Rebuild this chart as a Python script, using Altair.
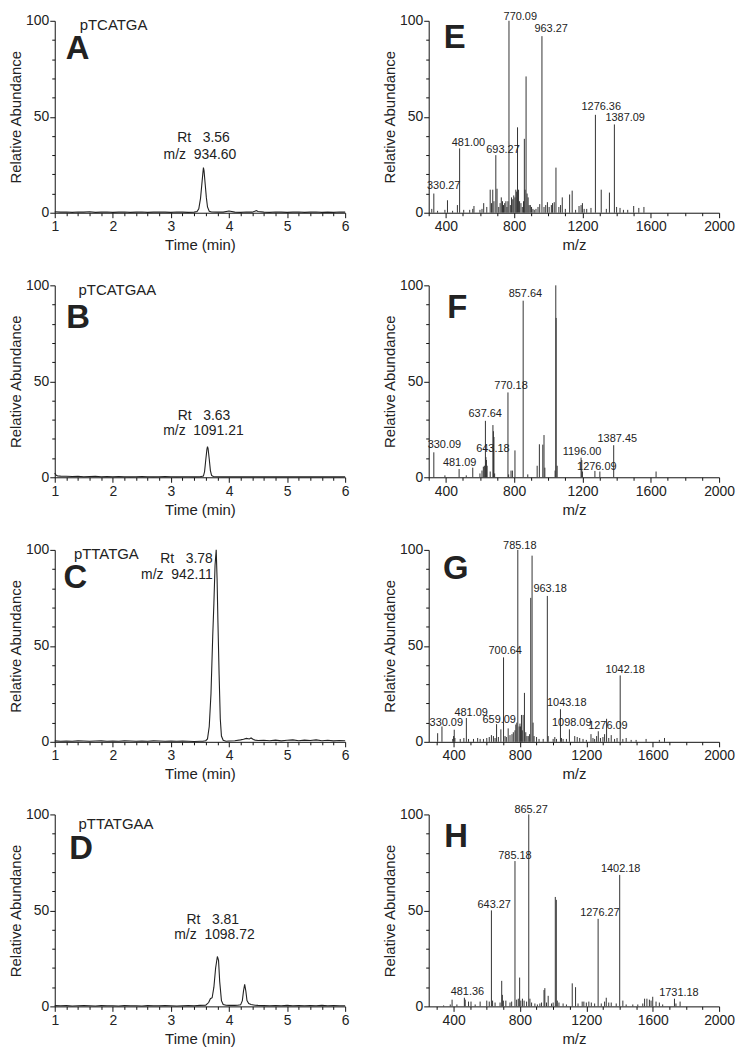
import altair as alt
import pandas as pd

FONT = "Liberation Sans"
INK = "#222222"

# ---------------- chromatograms (time in min, relative abundance) ----------------
A_time = [1.0, 1.1, 1.2, 1.3, 1.4, 1.5, 1.6, 1.7, 1.8, 1.9, 2.0, 2.1, 2.2, 2.3, 2.4, 2.5, 2.6, 2.7, 2.8, 2.9, 3.0, 3.1, 3.2, 3.3, 3.4,
          3.45, 3.48, 3.51, 3.53, 3.55, 3.56, 3.57, 3.59, 3.61, 3.63, 3.66,
          3.7, 3.8, 3.9, 4.0, 4.1, 4.2, 4.3, 4.4, 4.47, 4.5, 4.6, 4.7, 4.8, 4.9, 5.0, 5.1, 5.2, 5.3, 5.4, 5.5, 5.6, 5.7, 5.8, 5.9, 6.0]
A_int = [0.5, 0.3, 0.4, 0.2, 0.4, 0.3, 0.5, 0.2, 0.3, 0.4, 0.2, 0.3, 0.4, 0.2, 0.3, 0.4, 0.2, 0.3, 0.4, 0.3, 0.2, 0.4, 0.3, 0.2, 0.3,
         0.6, 2.0, 7.5, 14.0, 20.5, 23.5, 22.0, 15.0, 8.0, 3.0, 0.8,
         0.4, 0.3, 0.3, 0.9, 0.3, 0.2, 0.4, 0.3, 1.1, 0.6, 0.3, 0.2, 0.4, 0.3, 0.2, 0.3, 0.4, 0.2, 0.3, 0.4, 0.2, 0.3, 0.2, 0.4, 0.3]

B_time = [1.0, 1.02, 1.05, 1.1, 1.2, 1.3, 1.4, 1.5, 1.6, 1.7, 1.8, 1.9, 2.0, 2.1, 2.2, 2.3, 2.4, 2.5, 2.6, 2.7, 2.8, 2.9, 3.0, 3.1, 3.2, 3.3, 3.4, 3.5,
          3.56, 3.58, 3.6, 3.62, 3.63, 3.64, 3.66, 3.68, 3.7, 3.73,
          3.8, 3.9, 4.0, 4.1, 4.2, 4.3, 4.4, 4.5, 4.6, 4.7, 4.8, 4.9, 5.0, 5.1, 5.2, 5.3, 5.4, 5.5, 5.6, 5.7, 5.8, 5.9, 6.0]
B_int = [2.2, 1.2, 0.7,
         0.6, 0.5, 0.4, 0.5, 0.3, 0.4, 0.5, 0.3, 0.4, 0.3, 0.4, 0.3, 0.2, 0.3, 0.4, 0.3, 0.2, 0.3, 0.4, 0.3, 0.2, 0.3, 0.3, 0.2, 0.3,
         0.6, 3.0, 9.0, 14.5, 16.0, 15.0, 9.5, 3.5, 1.0, 0.4,
         0.3, 0.2, 0.3, 0.2, 0.3, 0.2, 0.3, 0.2, 0.3, 0.2, 0.2, 0.3, 0.2, 0.2, 0.3, 0.2, 0.3, 0.2, 0.2, 0.3, 0.2, 0.2, 0.3]

C_time = [1.0, 1.1, 1.2, 1.3, 1.4, 1.5, 1.6, 1.7, 1.8, 1.9, 2.0, 2.1, 2.2, 2.3, 2.4, 2.5, 2.6, 2.7, 2.8, 2.9, 3.0, 3.1, 3.2, 3.3, 3.4, 3.5,
          3.55, 3.6, 3.63, 3.66, 3.69, 3.72, 3.74, 3.76, 3.78, 3.795, 3.81, 3.83, 3.85, 3.87, 3.9, 3.95,
          4.0, 4.1, 4.2, 4.25, 4.3, 4.35, 4.38, 4.42, 4.45, 4.5,
          4.6, 4.7, 4.8, 4.9, 5.0, 5.1, 5.2, 5.3, 5.4, 5.5, 5.6, 5.7, 5.8, 5.9, 6.0]
C_int = [0.5, 0.3, 0.4, 0.3, 0.5, 0.4, 0.3, 0.4, 0.5, 0.3, 0.4, 0.3, 0.5, 0.4, 0.3, 0.4, 0.3, 0.5, 0.4, 0.3, 0.4, 0.3, 0.4, 0.3, 0.2, 0.3,
         0.3, 0.6, 1.5, 8.0, 25.0, 55.0, 72.0, 92.0, 100.0, 85.0, 62.0, 35.0, 12.0, 3.0, 0.8, 0.3,
         0.4, 0.6, 1.0, 1.3, 1.8, 1.5, 2.0, 1.2, 0.9, 0.7,
         0.8, 0.6, 0.9, 0.5, 0.8, 1.0, 0.6, 0.9, 0.7, 1.0, 0.6, 0.8, 0.5, 0.7, 0.6]

D_time = [1.0, 1.1, 1.2, 1.3, 1.4, 1.5, 1.6, 1.7, 1.8, 1.9, 2.0, 2.1, 2.2, 2.3, 2.4, 2.5, 2.6, 2.7, 2.8, 2.9, 3.0, 3.1, 3.2, 3.3, 3.4, 3.5, 3.6,
          3.65, 3.68, 3.71, 3.74, 3.77, 3.8, 3.82, 3.84, 3.87, 3.9, 3.95, 4.0, 4.05, 4.1, 4.15, 4.2, 4.23, 4.25, 4.27, 4.29, 4.31, 4.34, 4.38, 4.45, 4.5,
          4.6, 4.7, 4.8, 4.9, 5.0, 5.1, 5.2, 5.3, 5.4, 5.5, 5.6, 5.7, 5.8, 5.9, 6.0]
D_int = [0.4, 0.3, 0.4, 0.2, 0.3, 0.4, 0.3, 0.2, 0.4, 0.3, 0.3, 0.2, 0.4, 0.3, 0.3, 0.2, 0.4, 0.3, 0.3, 0.4, 0.3, 0.2, 0.3, 0.4, 0.3, 0.5, 0.6,
         2.0, 4.0, 4.5, 10.0, 20.0, 26.0, 24.0, 13.0, 3.0, 1.0, 0.6, 0.5, 0.6, 0.5, 0.6, 0.8, 3.0, 8.0, 11.5, 8.0, 3.0, 1.5, 1.0, 0.6, 0.5,
         0.4, 0.3, 0.4, 0.3, 0.5, 0.3, 0.4, 0.3, 0.4, 0.3, 0.5, 0.3, 0.4, 0.3, 0.3]

# chromatogram annotations
chrom_names = ["pTCATGA", "pTCATGAA", "pTTATGA", "pTTATGAA"]
chrom_letters = ["A", "B", "C", "D"]
name_pos = [(1.43, 95), (1.41, 95), (1.33, 95), (1.41, 92.5)]
letter_pos = [(1.19, 80), (1.2, 78), (1.15, 80), (1.25, 77)]
NB = "\u00a0"
rt_text = ["Rt" + NB * 3 + "3.56", "Rt" + NB * 3 + "3.63", "Rt" + NB * 3 + "3.78", "Rt" + NB * 3 + "3.81"]
mz_text = ["m/z" + NB * 2 + "934.60", "m/z" + NB * 2 + "1091.21", "m/z" + NB * 2 + "942.11", "m/z" + NB * 2 + "1098.72"]
rt_pos = [(3.56, 37), (3.57, 30), (3.72, 93), (3.72, 43)]
mz_pos = [(3.50, 28), (3.56, 22), (3.72, 85), (3.75, 35)]
ann_align = ["center", "center", "right", "center"]

# ---------------- mass spectra (m/z, relative abundance) ----------------
E_peaks = [(318, 2), (330, 10), (352, 1), (395, 1.5), (410, 6.5), (440, 1), (468, 4), (481, 33.5), (505, 1.5), (540, 1.5),
           (558, 2), (565, 3.5), (600, 1.5), (612, 2), (622, 5), (640, 3), (660, 12), (668, 5), (675, 12), (682, 6),
           (693, 30), (700, 12.5), (710, 3), (718, 5), (725, 8), (732, 6), (738, 4), (745, 5), (752, 6), (758, 3),
           (764, 6), (770, 100), (778, 4), (785, 8), (792, 7), (798, 9), (805, 8), (810, 12), (815, 11), (820, 44.5),
           (826, 12), (832, 6), (840, 5), (848, 3), (855, 6), (860, 38.5), (864, 12), (870, 71), (876, 10), (882, 8),
           (888, 4), (895, 4), (902, 3), (910, 2), (918, 1.5), (928, 2), (940, 3), (950, 4.5), (963, 92), (975, 3),
           (985, 4), (995, 5.5), (1005, 3), (1018, 4), (1025, 5), (1035, 5.5), (1045, 23.5), (1062, 3), (1072, 4), (1082, 8),
           (1100, 2), (1125, 9.5), (1140, 11.5), (1160, 1.5), (1180, 3.5), (1192, 4), (1200, 5), (1210, 2), (1225, 2), (1250, 2.5),
           (1276, 51), (1310, 12), (1340, 2), (1358, 10.5), (1387, 46), (1400, 3), (1420, 2.5), (1440, 1.5), (1465, 1.5), (1500, 3.5),
           (1530, 2.5), (1560, 3)]
F_peaks = [(330, 13), (395, 1), (478, 4.3), (520, 1), (558, 5), (600, 2), (612, 3.5), (620, 5.5), (626, 6), (632, 29.4),
           (635, 10.5), (638, 9), (642, 6), (660, 3), (676, 27.2), (679, 24), (682, 21), (686, 2), (764, 44.2), (768, 1.5),
           (782, 3.5), (790, 3.5), (805, 14), (853, 92), (880, 1.5), (935, 6), (948, 17.2), (968, 17), (975, 22), (980, 5),
           (1040, 3.5), (1044, 100), (1046, 83), (1052, 6), (1192, 10.2), (1196, 9), (1200, 3), (1273, 3.3), (1302, 3), (1383, 16.7),
           (1631, 3)]
G_peaks = [(304, 4.5), (330, 8), (395, 1.5), (400, 3), (404, 6.3), (408, 2), (440, 1.5), (462, 2), (477, 12.4), (490, 1.5),
           (520, 1.5), (545, 2), (560, 1.5), (580, 1.5), (600, 2), (615, 2.5), (628, 3.5), (640, 3), (650, 2), (659, 9.2),
           (670, 2.5), (685, 6.5), (701, 44), (710, 3), (718, 2.5), (729, 7), (740, 3.5), (752, 4), (760, 5), (770, 6),
           (775, 9), (781, 10), (787, 100), (795, 8), (800, 9.5), (803, 8), (809, 14), (814, 6), (819, 14), (827, 25.5),
           (835, 5), (842, 3), (850, 3), (858, 4), (865, 75), (873, 97), (879, 10), (885, 3), (900, 2.5), (915, 1.5),
           (940, 1.5), (965, 76), (970, 3), (1000, 1.5), (1010, 2.5), (1020, 1.5), (1044, 17), (1050, 2), (1060, 1.5), (1080, 1.5),
           (1098, 6.5), (1130, 3), (1145, 2.5), (1160, 2), (1180, 1.5), (1200, 1), (1228, 4), (1240, 2), (1250, 1.5), (1262, 3),
           (1272, 5.5), (1285, 2), (1300, 2.5), (1310, 4), (1322, 12), (1335, 2), (1350, 3.5), (1370, 1.5), (1385, 2), (1404, 34.6),
           (1420, 1.5), (1440, 2), (1470, 1), (1500, 1), (1560, 1.5), (1640, 1), (1671, 2)]
H_peaks = [(340, 0.5), (380, 1), (391, 3.5), (420, 1), (465, 4.5), (470, 3.5), (490, 2.5), (505, 2.5), (530, 1), (560, 2.5),
           (600, 3), (615, 2.5), (628, 50), (635, 3), (650, 2), (680, 2), (690, 13.3), (694, 6), (700, 3), (715, 3),
           (740, 2), (750, 2.5), (770, 75.7), (780, 3.5), (790, 4), (798, 15), (805, 3), (815, 4), (825, 3), (840, 2.5),
           (853, 100), (860, 4), (870, 2), (890, 1.5), (905, 1), (920, 1.5), (930, 2), (945, 8.5), (950, 9.5), (960, 2),
           (970, 5.5), (990, 1.5), (1000, 2), (1013, 57), (1019, 55.5), (1025, 3), (1035, 2), (1060, 1.5), (1080, 1), (1115, 12),
           (1135, 10), (1150, 1.5), (1175, 2.5), (1185, 2.5), (1200, 2), (1215, 2.5), (1230, 2), (1250, 1.5), (1271, 45.6), (1290, 1.5),
           (1310, 2.5), (1320, 4.5), (1335, 2), (1350, 2), (1380, 1.5), (1401, 68.5), (1420, 3), (1440, 1), (1480, 1), (1510, 1),
           (1540, 1.5), (1551, 4), (1565, 4), (1580, 3.5), (1590, 3), (1600, 5), (1620, 2.5), (1640, 2), (1660, 1), (1731, 4),
           (1740, 1.5), (1765, 2.5)]

# peak labels: (text, centre m/z, baseline abundance)
E_labels = [("330.27", 388, 12.5), ("481.00", 533, 35), ("693.27", 735, 31), ("770.09", 836, 100.5),
            ("963.27", 1017, 94), ("1276.36", 1310, 53.5), ("1387.09", 1450, 48)]
F_labels = [("330.09", 392, 15), ("481.09", 481, 5.8), ("643.18", 676, 13.4), ("637.64", 631, 31.3),
            ("770.18", 782, 45.8), ("857.64", 866, 94), ("1196.00", 1198, 11.7), ("1276.09", 1284, 4),
            ("1387.45", 1404, 18.5)]
G_labels = [("330.09", 356, 8.5), ("481.09", 506, 13.6), ("659.09", 675, 9.9), ("700.64", 711, 46),
            ("785.18", 799, 100.5), ("963.18", 982, 78), ("1043.18", 1082, 18.7), ("1098.09", 1112, 8.5),
            ("1276.09", 1330, 6.8), ("1042.18", 1434, 36)]
H_labels = [("481.36", 483, 5.8), ("643.27", 645, 51), ("785.18", 770, 77), ("865.27", 867, 101),
            ("1276.27", 1282, 47), ("1402.18", 1407, 70), ("1731.18", 1758, 5.5)]

spec_letters = ["E", "F", "G", "H"]
spec_letter_pos = [(388, 85.6), (408, 83), (336, 85), (344, 83)]
spec_start = [300, 300, 250, 250]

W, H = 292, 193

y_ticks = [0, 10, 20, 30, 40, 50, 60, 70, 80, 90, 100]
t_ticks = [1.0, 1.2, 1.4, 1.6, 1.8, 2.0, 2.2, 2.4, 2.6, 2.8, 3.0, 3.2, 3.4, 3.6, 3.8, 4.0,
           4.2, 4.4, 4.6, 4.8, 5.0, 5.2, 5.4, 5.6, 5.8, 6.0]
mz_ticks = [300, 400, 500, 600, 700, 800, 900, 1000, 1100, 1200, 1300, 1400, 1500, 1600, 1700, 1800, 1900, 2000]


def y_axis():
    return alt.Axis(values=y_ticks, tickCount=200, title="Relative Abundance",
                    labelExpr="datum.value % 50 === 0 ? '' + datum.value : ''",
                    tickSize={"condition": {"test": "datum.value % 50 === 0", "value": 5}, "value": 3},
                    labelPadding=1, titlePadding=2, labelOverlap=False, labelFlush=False)


def text_layer(df, align, size, weight="normal", dy=0):
    return alt.Chart(df).mark_text(align=align, baseline="alphabetic", font=FONT, fontSize=size,
                                   fontWeight=weight, color=INK, dy=dy).encode(
        x="x:Q", y="y:Q", text="text:N")


def chrom_panel(i, times, ints):
    xs = alt.Scale(domain=[1, 6], nice=False, zero=False)
    ys = alt.Scale(domain=[0, 100], nice=False)
    xa = alt.Axis(values=t_ticks, tickCount=200, title="Time (min)",
                  labelExpr="datum.value % 1 === 0 ? '' + datum.value : ''",
                  tickSize={"condition": {"test": "datum.value % 1 === 0", "value": 5}, "value": 3},
                  labelOverlap=False, labelFlush=False, titlePadding=4)
    df = pd.DataFrame({"t": times, "a": ints})
    line = alt.Chart(df).mark_line(color=INK, strokeWidth=1.1).encode(
        x=alt.X("t:Q", scale=xs, axis=xa), y=alt.Y("a:Q", scale=ys, axis=y_axis()))
    name = text_layer(pd.DataFrame({"x": [name_pos[i][0]], "y": [name_pos[i][1]], "text": [chrom_names[i]]}), "left", 15)
    letter = text_layer(pd.DataFrame({"x": [letter_pos[i][0]], "y": [letter_pos[i][1]], "text": [chrom_letters[i]]}),
                        "left", 33, "bold")
    ann = text_layer(pd.DataFrame({"x": [rt_pos[i][0], mz_pos[i][0]], "y": [rt_pos[i][1], mz_pos[i][1]],
                                   "text": [rt_text[i], mz_text[i]]}), ann_align[i], 14)
    return alt.layer(line, name, letter, ann).properties(width=W, height=H)


def spec_panel(i, peaks, labels):
    xs = alt.Scale(domain=[spec_start[i], 2000], nice=False, zero=False)
    ys = alt.Scale(domain=[0, 100], nice=False)
    xa = alt.Axis(values=mz_ticks, tickCount=200, title="m/z",
                  labelExpr="datum.value % 400 === 0 ? '' + datum.value : ''",
                  tickSize={"condition": {"test": "datum.value % 400 === 0", "value": 5}, "value": 3},
                  labelOverlap=False, labelFlush=False, titlePadding=4)
    df = pd.DataFrame({"mz": [p[0] for p in peaks], "ab": [p[1] for p in peaks], "base": [0] * len(peaks)})
    sticks = alt.Chart(df).mark_rule(color="#333333", strokeWidth=1).encode(
        x=alt.X("mz:Q", scale=xs, axis=xa), y=alt.Y("ab:Q", scale=ys, axis=y_axis()), y2="base:Q")
    ldf = pd.DataFrame({"text": [l[0] for l in labels], "x": [l[1] for l in labels], "y": [l[2] for l in labels]})
    lab = text_layer(ldf, "center", 11)
    letter = text_layer(pd.DataFrame({"x": [spec_letter_pos[i][0]], "y": [spec_letter_pos[i][1]],
                                      "text": [spec_letters[i]]}), "left", 33, "bold")
    return alt.layer(sticks, lab, letter).properties(width=W, height=H)


chroms = [chrom_panel(0, A_time, A_int), chrom_panel(1, B_time, B_int),
          chrom_panel(2, C_time, C_int), chrom_panel(3, D_time, D_int)]
specs = [spec_panel(0, E_peaks, E_labels), spec_panel(1, F_peaks, F_labels),
         spec_panel(2, G_peaks, G_labels), spec_panel(3, H_peaks, H_labels)]

panels = []
for c, s in zip(chroms, specs):
    panels += [c, s]

chart = alt.concat(*panels, columns=2, spacing={"row": 73, "column": 84}, bounds="flush").properties(
    padding={"left": 0, "top": 0, "right": 2, "bottom": 0}
).configure_view(stroke=None).configure_axis(
    labelFont=FONT, titleFont=FONT, labelFontSize=14, titleFontSize=15, titleFontWeight="normal",
    labelColor=INK, titleColor=INK, domainColor="#111111", tickColor="#111111", grid=False,
    domainWidth=1, tickWidth=1
)

chart.save("out.html", embed_options={"renderer": "svg", "actions": False})
